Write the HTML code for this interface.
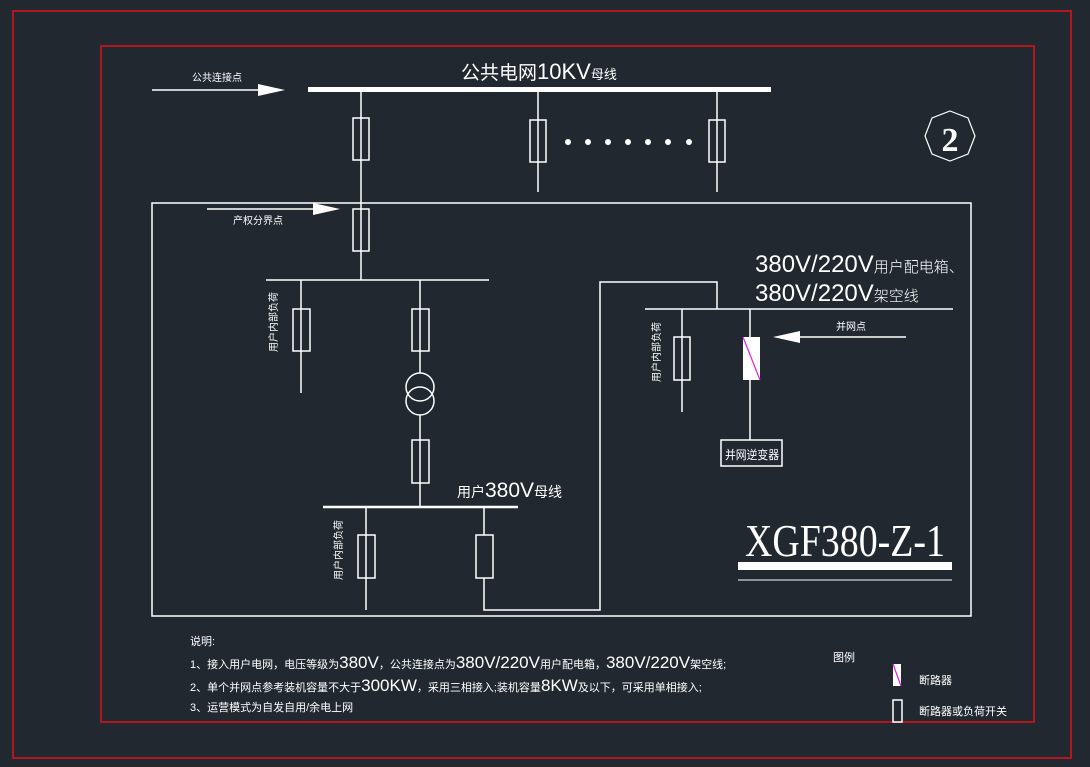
<!DOCTYPE html>
<html><head><meta charset="utf-8"><style>
html,body{margin:0;padding:0;background:#212830;}
svg{display:block}
text{font-family:"Liberation Sans","Noto Sans CJK SC",sans-serif;fill:#fff}
</style></head><body>
<svg width="1090" height="767" viewBox="0 0 1090 767" xmlns="http://www.w3.org/2000/svg">
<rect width="1090" height="767" fill="#212830"/>
<g fill="none" stroke="#b3161c" stroke-width="2">
<rect x="13" y="11" width="1058" height="747"/>
<rect x="101" y="46" width="933" height="676"/>
</g>
<g fill="none" stroke="#fff" stroke-width="1.5">
<rect x="152" y="203" width="819" height="413"/>
<line x1="361" y1="92" x2="361" y2="280"/>
<rect x="353" y="118" width="16" height="42"/>
<rect x="353" y="209" width="16" height="42"/>
<line x1="538" y1="92" x2="538" y2="192"/>
<rect x="530" y="120" width="16" height="42"/>
<line x1="717" y1="92" x2="717" y2="192"/>
<rect x="709" y="120" width="16" height="42"/>
<line x1="152" y1="90" x2="262" y2="90"/>
<line x1="207" y1="209" x2="318" y2="209"/>
<line x1="906" y1="337" x2="795" y2="337"/>
<line x1="266" y1="280" x2="489" y2="280"/>
<line x1="301" y1="280" x2="301" y2="393"/>
<rect x="293" y="309" width="17" height="42"/>
<line x1="420" y1="280" x2="420" y2="373"/>
<rect x="412" y="309" width="17" height="42"/>
<circle cx="420" cy="387" r="14"/>
<circle cx="420" cy="401" r="14"/>
<line x1="420" y1="415" x2="420" y2="507"/>
<rect x="412" y="440" width="17" height="43"/>
<line x1="323" y1="507" x2="518" y2="507" stroke-width="2.5"/>
<line x1="366" y1="507" x2="366" y2="610"/>
<rect x="358" y="535" width="17" height="43"/>
<polyline points="484,507 484,610 600,610 600,282 717,282 717,309"/>
<rect x="476" y="535" width="17" height="43" fill="#212830"/>
<line x1="645" y1="309" x2="953" y2="309"/>
<line x1="682" y1="309" x2="682" y2="412"/>
<rect x="674" y="337" width="16" height="43"/>
<line x1="750" y1="309" x2="750" y2="440"/>
<rect x="721" y="440" width="61" height="26"/>
<line x1="738" y1="580" x2="952" y2="580" stroke-width="1"/>
<polygon points="950,111 968,118 975,136 968,154 950,161 932,154 925,136 932,118" stroke-width="1.2"/>
<rect x="893" y="700" width="9" height="22"/>
</g>
<rect x="308" y="87" width="463" height="5" fill="#fff"/>
<rect x="738" y="562" width="214" height="8" fill="#fff"/>
<g fill="#fff">
<polygon points="258,84 285,90 258,96"/>
<polygon points="313,203 340,209 313,215"/>
<polygon points="800,331 773,337 800,343"/>
<circle cx="568" cy="142" r="3"/><circle cx="588" cy="142" r="3"/><circle cx="608" cy="142" r="3"/><circle cx="628" cy="142" r="3"/><circle cx="648" cy="142" r="3"/><circle cx="668" cy="142" r="3"/><circle cx="689" cy="142" r="3"/>
<rect x="743" y="337" width="17" height="43"/>
<rect x="893" y="664" width="8" height="22"/>
</g>
<line x1="743" y1="337" x2="760" y2="380" stroke="#e020e0" stroke-width="1.2"/>
<line x1="893" y1="664" x2="901" y2="686" stroke="#e020e0" stroke-width="1.2"/>
<text x="461" y="79" font-size="19">公共电网<tspan font-size="22">10KV</tspan><tspan font-size="13">母线</tspan></text>
<text x="192" y="81" font-size="10">公共连接点</text>
<text x="233" y="224" font-size="10">产权分界点</text>
<text x="836" y="330" font-size="10">并网点</text>
<text x="755" y="272" font-size="24" font-weight="300">380V/220V<tspan font-size="15">用户配电箱、</tspan></text>
<text x="755" y="301" font-size="24" font-weight="300">380V/220V<tspan font-size="15">架空线</tspan></text>
<text x="457" y="497" font-size="14">用户<tspan font-size="21">380V</tspan><tspan font-size="14">母线</tspan></text>
<text x="725" y="459" font-size="12" textLength="54" lengthAdjust="spacingAndGlyphs">并网逆变器</text>
<text transform="translate(277,352) rotate(-90)" font-size="10">用户内部负荷</text>
<text transform="translate(660,382) rotate(-90)" font-size="10">用户内部负荷</text>
<text transform="translate(342,580) rotate(-90)" font-size="10">用户内部负荷</text>
<text x="745" y="556" font-size="46" style="font-family:'Liberation Serif',serif" textLength="200" lengthAdjust="spacingAndGlyphs">XGF380-Z-1</text>
<text x="950" y="151" font-size="34" style="font-family:'Liberation Serif',serif" text-anchor="middle" font-weight="bold">2</text>
<text x="190" y="645" font-size="11">说明:</text>
<text x="190" y="668" font-size="11">1、接入用户电网，电压等级为<tspan font-size="17">380V</tspan>，公共连接点为<tspan font-size="17">380V/220V</tspan>用户配电箱，<tspan font-size="17">380V/220V</tspan>架空线;</text>
<text x="190" y="691" font-size="11">2、单个并网点参考装机容量不大于<tspan font-size="17">300KW</tspan>，采用三相接入;装机容量<tspan font-size="17">8KW</tspan>及以下，可采用单相接入;</text>
<text x="190" y="711" font-size="11">3、运营模式为自发自用/余电上网</text>
<text x="833" y="661" font-size="11">图例</text>
<text x="919" y="684" font-size="11">断路器</text>
<text x="919" y="715" font-size="11">断路器或负荷开关</text>
</svg>
</body></html>
